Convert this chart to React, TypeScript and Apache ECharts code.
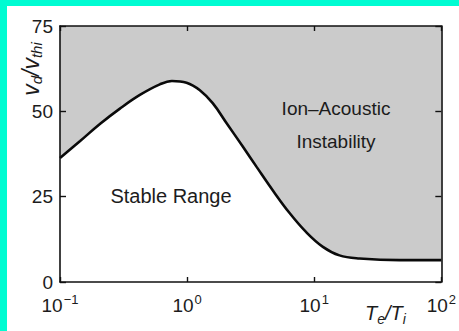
import React, { useEffect, useRef } from "react";
import * as echarts from "echarts";

// Stability boundary: drift-to-thermal speed ratio vs. temperature ratio
const tempRatio = [0.1, 0.144, 0.206, 0.296, 0.425, 0.61, 0.76, 0.99, 1.26, 1.59, 2.04, 2.75, 3.51, 4.73, 6.4, 8.65, 11.7, 15.8, 22.7, 47, 100];
const driftRatio = [36.3, 41.3, 46.3, 50.8, 54.8, 57.9, 58.9, 58.4, 56.2, 52.4, 46.6, 39.6, 33.8, 26.8, 20.2, 14.6, 10.3, 7.8, 6.9, 6.4, 6.4];

const yTicks = [0, 25, 50, 75];
const regionLabels = ["Stable Range", "Ion\u2013Acoustic", "Instability"];

const FONT = "'Liberation Sans', Arial, Helvetica, sans-serif";
const INK = "#1c1c1c";

export default function App() {
  const ref = useRef<HTMLDivElement>(null);

  useEffect(() => {
    if (!ref.current) return;
    const chart = echarts.init(ref.current, undefined, { renderer: "svg" });

    const supLabel = (v: number) => {
      const e = Math.round(Math.log10(v));
      const s = e < 0 ? "\u2212" + -e : String(e);
      return `{b|10}{s|${s}}`;
    };

    const frameLine = { show: true, onZero: false, lineStyle: { color: "#111", width: 1.6 } };
    const frameTick = (length: number) => ({
      show: true,
      inside: true,
      length,
      lineStyle: { color: "#111", width: 1.4 },
    });

    chart.setOption({
      animation: false,
      backgroundColor: "#ffffff",
      grid: {
        left: 53,
        top: 20,
        right: 17,
        bottom: 49,
        show: true,
        backgroundColor: "#cbcbcb",
        borderWidth: 0,
      },
      xAxis: [
        {
          type: "log",
          logBase: 10,
          min: 0.1,
          max: 100,
          z: 10,
          axisLine: frameLine,
          axisTick: frameTick(5),
          minorTick: { show: false },
          splitLine: { show: false },
          axisLabel: {
            margin: 11,
            formatter: supLabel,
            rich: {
              b: { fontSize: 19, fontFamily: FONT, color: INK, lineHeight: 22, verticalAlign: "bottom" },
              s: { fontSize: 13, fontFamily: FONT, color: INK, lineHeight: 14, verticalAlign: "top", padding: [0, 0, 0, 1] },
            },
          },
        },
        {
          type: "log",
          logBase: 10,
          min: 0.1,
          max: 100,
          position: "top",
          z: 10,
          axisLine: frameLine,
          axisTick: frameTick(5),
          axisLabel: { show: false },
          splitLine: { show: false },
        },
      ],
      yAxis: [
        {
          type: "value",
          min: yTicks[0],
          max: yTicks[yTicks.length - 1],
          interval: 25,
          z: 10,
          axisLine: frameLine,
          axisTick: frameTick(6),
          splitLine: { show: false },
          axisLabel: { margin: 7, fontSize: 19, fontFamily: FONT, color: INK },
        },
        {
          type: "value",
          min: yTicks[0],
          max: yTicks[yTicks.length - 1],
          interval: 25,
          position: "right",
          z: 10,
          axisLine: frameLine,
          axisTick: frameTick(6),
          axisLabel: { show: false },
          splitLine: { show: false },
        },
      ],
      series: [
        {
          type: "line",
          data: tempRatio.map((t, i) => [t, driftRatio[i]]),
          smooth: 0.4,
          showSymbol: false,
          z: 3,
          lineStyle: { color: "#0a0a0a", width: 2.6 },
          areaStyle: { color: "#ffffff", opacity: 1 },
        },
      ],
      graphic: [
        {
          type: "text",
          x: 164,
          y: 190,
          z: 20,
          style: { text: regionLabels[0], font: `20px ${FONT}`, fill: INK, textAlign: "center", textVerticalAlign: "middle" },
        },
        {
          type: "text",
          x: 329,
          y: 102,
          z: 20,
          style: { text: regionLabels[1], font: `19px ${FONT}`, fill: INK, textAlign: "center", textVerticalAlign: "middle" },
        },
        {
          type: "text",
          x: 329,
          y: 135,
          z: 20,
          style: { text: regionLabels[2], font: `19px ${FONT}`, fill: INK, textAlign: "center", textVerticalAlign: "middle" },
        },
        {
          type: "text",
          x: 358,
          y: 307,
          z: 20,
          style: {
            text: "{m|T}{u|e}{m|/T}{u|i}",
            textVerticalAlign: "middle",
            rich: {
              m: { fontSize: 20, fontFamily: FONT, fontStyle: "italic", fill: INK, lineHeight: 26, verticalAlign: "middle" },
              u: { fontSize: 14, fontFamily: FONT, fontStyle: "italic", fill: INK, lineHeight: 14, verticalAlign: "bottom" },
            },
          },
        },
        {
          type: "text",
          x: 24,
          y: 63,
          rotation: Math.PI / 2,
          z: 20,
          style: {
            text: "{m|v}{u|d}{m|/v}{u|thi}",
            textAlign: "center",
            textVerticalAlign: "middle",
            rich: {
              m: { fontSize: 23, fontFamily: FONT, fontStyle: "italic", fill: INK, lineHeight: 26, verticalAlign: "middle" },
              u: { fontSize: 15, fontFamily: FONT, fontStyle: "italic", fill: INK, lineHeight: 14, verticalAlign: "bottom" },
            },
          },
        },
      ],
    });

    return () => chart.dispose();
  }, []);

  return (
    <div style={{ position: "fixed", left: 0, top: 0, width: 459, height: 331, background: "#00fcd2" }}>
      <div ref={ref} style={{ position: "absolute", left: 7, top: 6, width: 452, height: 325, background: "#fff" }} />
    </div>
  );
}
